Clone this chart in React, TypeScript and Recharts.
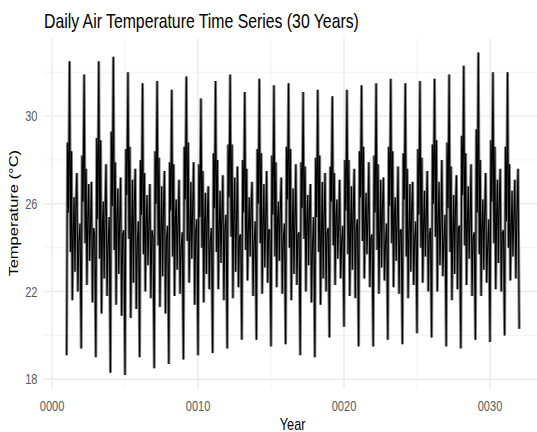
import { LineChart, Line, XAxis, YAxis, CartesianGrid } from 'recharts';

// start of each seasonal cycle (year)
const years = [1, 2, 3, 4, 5, 6, 7, 8, 9, 10, 11, 12, 13, 14, 15, 16, 17, 18, 19, 20, 21, 22, 23, 24, 25, 26, 27, 28, 29, 30, 31];
const lastYear = 32;

// one value per cycle
const troughs = [19.1, 19.4, 19.0, 18.3, 18.2, 19.0, 18.5, 18.7, 18.9, 19.1, 19.2, 19.4, 19.8, 19.8, 19.5, 19.6, 19.1, 19.0, 19.9, 20.4, 19.5, 19.5, 19.8, 19.6, 20.1, 19.9, 19.5, 19.4, 19.8, 19.7, 20.0, 20.3];
const rises = [28.8, 28.2, 29.0, 29.3, 28.5, 28.0, 28.4, 27.9, 28.6, 27.8, 28.3, 28.7, 28.0, 28.5, 28.2, 28.6, 27.9, 28.1, 27.7, 28.0, 28.4, 28.2, 28.6, 28.3, 28.5, 28.7, 28.8, 29.1, 29.4, 28.9, 28.6];
const dips = [25.6, 26.1, 25.3, 25.9, 26.4, 25.5, 26.0, 25.7, 26.2, 25.4, 25.8, 26.3, 25.6, 26.0, 25.5, 26.2, 25.8, 25.4, 26.1, 25.7, 26.3, 25.6, 25.9, 26.2, 25.5, 26.0, 25.8, 26.4, 25.6, 26.1, 25.2];
const peaks = [32.5, 31.9, 32.5, 32.7, 32.0, 31.5, 31.6, 31.2, 31.8, 30.8, 31.6, 31.9, 31.1, 31.7, 31.4, 31.5, 31.1, 31.2, 30.9, 31.2, 31.4, 31.5, 31.7, 31.5, 31.6, 31.7, 31.9, 32.3, 32.9, 32.0, 32.0];
const drops = [23.8, 24.2, 23.5, 23.9, 24.4, 23.7, 24.1, 23.6, 24.3, 24.0, 23.8, 24.5, 23.9, 24.2, 23.6, 24.0, 24.4, 23.8, 24.1, 23.7, 24.3, 23.9, 24.2, 23.6, 24.0, 24.5, 23.8, 24.1, 23.7, 24.2, 24.0];
const highA = [28.4, 27.6, 28.9, 27.9, 28.6, 27.4, 28.1, 27.8, 28.8, 27.5, 28.0, 28.7, 27.6, 28.3, 27.9, 28.5, 27.7, 28.2, 27.4, 28.0, 28.6, 27.8, 28.4, 27.6, 28.1, 28.9, 27.7, 28.3, 28.0, 28.6, 27.8];
const lowA = [21.6, 22.3, 21.0, 21.4, 20.8, 22.0, 21.3, 21.8, 22.4, 21.5, 22.1, 21.7, 22.5, 21.9, 22.2, 21.6, 22.0, 21.4, 22.3, 21.8, 22.6, 21.9, 22.2, 21.7, 22.4, 22.0, 21.6, 22.3, 21.8, 22.1, 22.5];
const midD = [24.6, 25.3, 24.9, 25.5, 24.7, 25.2, 24.8, 25.4, 24.5, 25.1, 24.9, 25.6, 24.8, 25.0, 25.3, 24.7, 25.2, 24.6, 25.4, 24.9, 25.1, 24.8, 25.5, 24.7, 25.0, 25.3, 24.6, 25.2, 24.9, 25.4, 24.8];
const highB = [26.3, 26.9, 26.1, 26.7, 27.1, 26.4, 26.8, 26.2, 27.0, 26.5, 26.6, 27.2, 26.3, 26.9, 26.1, 26.7, 26.4, 27.0, 26.2, 26.8, 26.5, 27.1, 26.3, 26.9, 26.6, 27.0, 26.4, 26.8, 26.2, 27.1, 26.6];
const lowB = [22.9, 23.4, 22.6, 22.8, 22.4, 23.2, 22.7, 23.0, 23.5, 22.8, 23.3, 22.9, 23.6, 23.1, 23.4, 22.8, 23.2, 22.6, 23.5, 23.0, 23.7, 23.1, 23.4, 22.9, 23.6, 23.2, 22.8, 23.5, 23.0, 23.3, 23.6];
const midE = [25.8, 24.9, 25.5, 25.1, 25.9, 24.8, 25.6, 25.0, 25.7, 25.2, 25.4, 24.9, 25.8, 25.1, 25.6, 25.0, 25.7, 25.3, 24.9, 25.5, 25.2, 25.8, 25.0, 25.6, 25.3, 24.9, 25.7, 25.1, 25.4, 25.9, 25.2];
const highC = [27.4, 27.0, 27.8, 27.2, 27.6, 26.9, 27.5, 27.1, 27.9, 26.8, 27.3, 27.7, 27.0, 27.5, 27.2, 27.8, 26.9, 27.4, 27.1, 27.6, 27.9, 27.2, 27.7, 27.0, 27.5, 28.0, 27.3, 27.8, 27.4, 27.6, 27.1];
const lowC = [22.0, 21.5, 21.8, 20.9, 21.2, 21.7, 21.0, 21.9, 21.4, 22.1, 21.6, 22.2, 21.8, 22.4, 21.9, 22.3, 21.5, 22.0, 22.6, 21.7, 22.2, 22.5, 21.9, 22.3, 22.0, 22.7, 22.1, 21.8, 22.4, 22.0, 22.6];
const midF = [24.3, 24.9, 24.1, 24.6, 24.2, 24.8, 24.4, 24.0, 24.7, 24.3, 24.9, 24.5, 24.2, 24.8, 24.4, 24.6, 24.1, 24.7, 24.3, 24.9, 24.5, 24.2, 24.8, 24.4, 24.6, 24.3, 24.9, 24.5, 24.1, 24.7, 25.5];
const lates = [25.1, 24.6, 25.4, 24.8, 25.2, 24.5, 25.0, 24.7, 25.3, 24.9, 25.5, 24.6, 25.2, 24.8, 25.1, 24.7, 25.4, 24.9, 25.0, 25.3, 24.6, 25.1, 24.8, 25.2, 24.9, 25.5, 25.0, 24.7, 25.3, 24.8, 27.6];
// time of each reading within a cycle (fraction of a year)
const phases = [0, 0.06, 0.13, 0.2, 0.27, 0.33, 0.39, 0.45, 0.51, 0.57, 0.63, 0.7, 0.77, 0.84, 0.92];

const xTicks = [0, 10, 20, 30];
const xMinor = [5, 15, 25];
const yTicks = [18, 22, 26, 30];
const yMinor = [20, 24, 28, 32];

const data: { t: number; temp: number }[] = [];
years.forEach((yr, i) => {
  const vals = [troughs[i], rises[i], dips[i], peaks[i], drops[i], highA[i], lowA[i], midD[i], highB[i], lowB[i], midE[i], highC[i], lowC[i], midF[i], lates[i]];
  vals.forEach((v, k) => data.push({ t: yr + phases[k], temp: v }));
});
data.push({ t: lastYear, temp: troughs[troughs.length - 1] });

const FONT = '"Liberation Sans", Arial, Helvetica, sans-serif';
const SQ = 0.79;

const XTick = ({ x, y, payload }: any) => (
  <text transform={`translate(${x},${y + 22}) scale(${SQ},1)`} textAnchor="middle" fontSize={14} fill="#5a5a5a" fontFamily={FONT}>
    {String(payload.value).padStart(4, '0')}
  </text>
);

const YTick = ({ x, y, payload }: any) => (
  <text transform={`translate(${x - 6.5},${y + 5}) scale(${SQ},1)`} textAnchor="end" fontSize={14} fill="#5a5a5a" fontFamily={FONT}>
    {payload.value}
  </text>
);

export default function App() {
  return (
    <div style={{ position: 'absolute', left: 0, top: 0, width: 537, height: 432, overflow: 'hidden', background: '#fff' }}>
      <LineChart width={542} height={432} data={data} margin={{ top: 38, right: 0, bottom: 0, left: 0 }}>
        <CartesianGrid stroke="#f3f3f3" strokeWidth={1} horizontalValues={yMinor} verticalValues={xMinor} />
        <CartesianGrid stroke="#ebebeb" strokeWidth={1.4} horizontalValues={yTicks} verticalValues={xTicks} />
        <XAxis dataKey="t" type="number" domain={[-0.55, 33.56]} ticks={xTicks} allowDataOverflow
          axisLine={false} tickLine={false} tickSize={0} tickMargin={0} height={43.5} tick={<XTick />} interval={0} />
        <YAxis type="number" domain={[17.58, 33.56]} ticks={yTicks} allowDataOverflow
          axisLine={false} tickLine={false} tickSize={0} tickMargin={0} width={44} tick={<YTick />} interval={0} />
        <Line type="linear" dataKey="temp" stroke="#858585" strokeWidth={3} dot={false} isAnimationActive={false} />
        <Line type="linear" dataKey="temp" stroke="#000" strokeWidth={1.1} dot={false} isAnimationActive={false} />
      </LineChart>
      <svg width={537} height={432} style={{ position: 'absolute', left: 0, top: 0, pointerEvents: 'none' }}>
        <text transform={`translate(44,28) scale(${SQ},1)`} fontSize={20} fill="#000" fontFamily={FONT}>
          Daily Air Temperature Time Series (30 Years)
        </text>
        <text transform={`translate(292.6,429.5) scale(${SQ},1)`} textAnchor="middle" fontSize={16} fill="#000" fontFamily={FONT}>
          Year
        </text>
        <text transform={`translate(18,213.25) rotate(-90) scale(1,${SQ})`} textAnchor="middle" fontSize={16.5} fill="#000" fontFamily={FONT}>
          Temperature (°C)
        </text>
      </svg>
    </div>
  );
}
